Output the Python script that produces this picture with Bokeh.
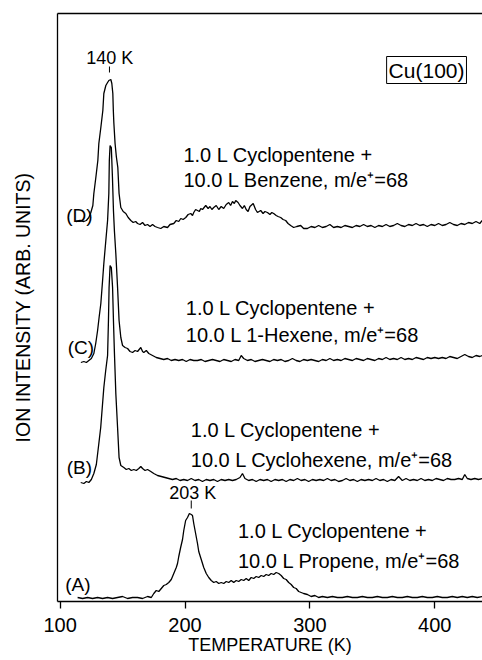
import math
from bokeh.plotting import figure
from bokeh.models import Label, FixedTicker, LinearAxis, Range1d
from bokeh.embed import file_html
from bokeh.resources import INLINE

FONT = "Liberation Sans"

# ---------------- data ----------------
x_ticks = [100, 200, 300, 400]

# (A) 1.0 L cyclopentene + 10.0 L propene
temp_a = [114, 118, 122, 126, 130, 134, 138, 142, 146, 150, 154, 158, 162, 166, 170,
          173, 175, 177, 179, 181, 183, 185, 187, 189, 191, 193,
          194, 195, 196.5, 198, 199, 200.5, 202, 203.5, 205, 206, 207, 208.5, 210, 211, 212.5, 214, 215,
          217, 219, 221, 223, 225, 227, 229, 231, 233, 235, 237, 239, 241, 243, 245, 247, 249, 251, 253, 255,
          257, 259, 261, 263, 265, 267, 269, 271, 273, 275, 277, 279, 281, 283, 285, 287, 289, 291, 293, 295,
          298, 301, 304, 307, 310,
          314, 318, 322, 326, 330, 334, 338, 342, 346, 350, 354, 358, 362, 366, 370, 374, 378, 382, 386, 390,
          394, 398, 402, 406, 410, 414, 418, 422, 426, 430, 434, 438]
int_a = [4, 3, 4, 3, 4, 3, 4, 3, 4, 5, 3, 4, 4, 3, 5,
         4, 8, 11, 10, 13, 16, 17, 19, 22, 28, 34,
         38, 45, 54, 62, 71, 81, 84, 88, 87, 86, 78, 68, 58, 50, 44, 38, 34,
         28, 24, 21, 19, 20, 18, 19, 18, 20, 19, 21, 19, 21, 20, 22, 21, 23, 21, 24, 23,
         25, 24, 26, 25, 27, 26, 28, 27, 29, 28, 26, 23, 22, 19, 17, 14, 13, 10, 9, 8,
         7, 5, 6, 4, 5,
         4, 5, 4, 4, 5, 4, 4, 5, 4, 4, 5, 4, 4, 5, 4, 4, 5, 4, 4, 5,
         4, 4, 5, 4, 4, 5, 4, 5, 4, 5, 4, 5]

# (B) 1.0 L cyclopentene + 10.0 L cyclohexene
temp_b = [116.5, 119, 121, 123, 125, 127, 129, 131, 132.5, 134,
          135, 136.5, 138, 138.7, 139.2, 140, 141, 142, 142.7, 143.5,
          144.6, 146, 147.2, 148.6, 151, 153, 155, 157, 159, 161,
          163, 164.6, 166, 168, 170, 172.6, 175, 178, 181, 184, 187,
          190, 193, 196, 199, 202, 205, 208, 211, 214, 217, 220, 223, 226, 229, 232, 235, 238, 241, 244,
          246, 248,
          251, 254, 257, 260, 263, 266, 269, 272, 275, 278, 281, 284, 287, 290, 293, 296, 299, 302, 305, 308,
          311, 314, 317, 320, 323, 326, 329, 332, 335, 338, 341, 344, 347, 350, 353, 356, 359, 362, 365, 368,
          371, 374, 377, 380, 383, 386, 389, 392, 395, 398, 401, 404, 407, 410, 413, 416, 419, 422,
          424, 426, 429, 432, 435, 438]
int_b = [119, 118, 120, 119, 122, 128, 137, 158, 174, 198,
         214, 231, 246, 281, 314, 336, 334, 314, 281, 248,
         208, 174, 144, 136, 134, 132, 133, 131, 132, 131,
         133, 135, 133, 131, 132, 130, 128, 126, 125, 124, 123,
         122, 123, 121, 122, 121, 123, 121, 122, 120, 122, 121, 122, 120, 122, 121, 122, 121, 122, 124,
         128, 123,
         121, 122, 120, 122, 121, 122, 120, 122, 121, 122, 120, 122, 121, 123, 121, 122, 120, 122, 121, 122,
         121, 123, 121, 122, 120, 121, 123, 121, 122, 120, 122, 121, 122, 121, 123, 121, 122, 120, 122, 121,
         125, 121, 123, 121, 122, 121, 123, 121, 122, 121, 123, 122, 121, 123, 122, 122, 123, 122,
         127, 123, 122, 123, 122, 123]

# (C) 1.0 L cyclopentene + 10.0 L 1-hexene
temp_c = [116.6, 119, 121, 123, 125, 127, 128.5, 130, 131.3, 132.6,
          134, 135, 136.6, 138, 139, 139.4, 140, 141, 141.9, 142.7,
          143.5, 144.6, 146, 147.2, 148.6, 150, 152, 154, 156, 158,
          160, 162, 164.6, 166, 167, 169, 171, 174, 177, 180,
          183, 186, 189, 192, 195, 198, 201, 204, 207, 210, 213, 216, 219, 222, 225, 228, 231, 234, 237, 240, 243,
          245, 247,
          250, 253, 256, 259, 262, 265, 268, 271, 274, 277, 280, 283, 286, 289, 292, 295, 298, 301, 304, 307,
          310, 313, 316, 319, 322, 325, 328, 331, 334, 337, 340, 343, 346, 349, 352, 355, 358, 361, 364, 367,
          370, 373, 376, 379, 382, 385, 388, 391, 394, 397, 400, 403, 406, 409, 412, 415, 418, 421, 424, 427,
          430, 433, 436, 438]
int_c = [239, 240, 239, 241, 243, 248, 258, 271, 285, 298,
         321, 338, 361, 381, 408, 441, 456, 454, 424, 391,
         370, 348, 314, 281, 264, 256, 254, 253, 250, 249,
         251, 250, 254, 250, 249, 251, 248, 246, 244, 243,
         242, 243, 241, 242, 241, 242, 240, 242, 241, 241, 242, 240, 241, 242, 241, 240, 242, 241, 240, 242, 241,
         246, 243,
         241, 242, 240, 241, 242, 241, 240, 242, 241, 242, 240, 241, 243, 241, 240, 242, 241, 242, 241, 240,
         242, 241, 243, 241, 242, 241, 243, 242, 241, 243, 242, 241, 243, 242, 241, 243, 242, 244, 242, 243,
         242, 244, 242, 243, 242, 244, 243, 242, 244, 243, 244, 243, 244, 243, 245, 244, 243, 245, 247, 245,
         244, 246, 245, 246]

# (D) 1.0 L cyclopentene + 10.0 L benzene
temp_d = [112.6, 116, 119, 121, 123, 124.6, 126.2, 127, 128.6, 130.2,
          131, 132.6, 134.2, 135, 136.6, 138, 139, 140.6, 141.4, 142.2,
          142.6, 143, 144, 145, 146.2, 147.2, 148.6, 150.5, 152.6, 154.5,
          156.6, 158.5, 160.5, 162, 164, 166, 168, 170, 172, 174,
          176, 178, 180.6, 183, 186, 188, 191, 193, 195, 196.6,
          198.5, 200.6, 202.5, 204.6, 206, 207, 208.5, 210, 211.5, 212.6,
          214, 216.6, 218.5, 220, 221.5, 223, 225, 227, 229, 231,
          233, 235, 236.5, 238, 239.5, 240.6, 242.5, 244, 246, 247.5,
          249, 250.5, 252, 254.6, 256.5, 258, 260.6, 262.5, 264, 266,
          268, 269.5, 271, 273, 274.5, 276.6, 278.5, 280.6, 282.5, 284.6,
          287, 289.5, 292.6, 295, 298,
          301, 304, 307, 310, 313, 316, 319, 322, 325, 328, 331, 334, 337, 340, 343, 346, 349, 352, 355, 358,
          361, 364, 367, 370, 373, 376, 379, 382, 385, 388, 391, 394, 397, 400, 403, 406, 409, 412, 415, 418,
          421, 424, 427, 430, 433, 436, 438]
int_d = [380, 381, 380, 381, 384, 389, 396, 408, 424, 441,
         458, 474, 491, 508, 516, 519, 521, 522, 518, 508,
         491, 479, 458, 445, 434, 408, 394, 390, 388, 384,
         381, 379, 380, 378, 377, 379, 376, 377, 375, 377,
         375, 374, 373, 375, 374, 377, 378, 381, 380, 383,
         382, 384, 387, 388, 386, 389, 392, 391, 390, 393,
         392, 396, 393, 395, 392, 394, 396, 392, 395, 393,
         397, 399, 396, 400, 398, 401, 399, 396, 393, 396,
         392, 390, 395, 398, 392, 389, 391, 388, 390, 389,
         387, 389, 388, 386, 385, 384, 382, 381, 378, 376,
         374, 375, 376, 373, 373,
         375, 374, 376, 374, 375, 377, 374, 375, 374, 376, 375, 374, 376, 375, 377, 375, 376, 374, 376, 375,
         377, 375, 376, 378, 376, 375, 377, 376, 378, 376, 377, 375, 377, 376, 378, 376, 377, 379, 377, 376,
         378, 377, 379, 378, 380, 378, 381]

trace_tags = ["(A)", "(B)", "(C)", "(D)"]
line1 = "1.0 L Cyclopentene +"
line2 = ["10.0 L Propene, m/e\u207a=68", "10.0 L Cyclohexene, m/e\u207a=68",
         "10.0 L 1-Hexene, m/e\u207a=68", "10.0 L Benzene, m/e\u207a=68"]
peak_labels = ["140 K", "203 K"]
peak_marks = [139.5, 205]
surface = "Cu(100)"
y_title = "ION INTENSITY (ARB. UNITS)"
x_title = "TEMPERATURE (K)"

for xs, ys in [(temp_a, int_a), (temp_b, int_b), (temp_c, int_c), (temp_d, int_d)]:
    assert len(xs) == len(ys), (len(xs), len(ys))

# ---------------- figure ----------------
p = figure(width=482, height=660, title=None,
           x_range=Range1d(97.9, 438.2), y_range=Range1d(0, 588),
           output_backend="svg", toolbar_location=None,
           min_border_left=57, min_border_right=0, min_border_top=13, min_border_bottom=59)
p.outline_line_color = None
p.xgrid.visible = False
p.ygrid.visible = False
p.background_fill_color = "white"
p.border_fill_color = "white"

xa = p.xaxis[0]
xa.ticker = FixedTicker(ticks=x_ticks)
xa.major_tick_out = 7
xa.major_tick_in = 0
xa.minor_tick_out = 0
xa.minor_tick_in = 0
xa.major_tick_line_width = 1.3
xa.axis_line_width = 1.3
xa.major_label_text_font = FONT
xa.major_label_text_font_size = "20px"
xa.major_label_text_color = "black"
xa.major_label_standoff = 9
xa.axis_label = x_title
xa.axis_label_text_font = FONT
xa.axis_label_text_font_size = "18px"
xa.axis_label_text_font_style = "normal"
xa.axis_label_text_color = "black"
xa.axis_label_standoff = 0

ya = p.yaxis[0]
ya.ticker = FixedTicker(ticks=[])
ya.major_tick_out = 0
ya.minor_tick_out = 0
ya.major_label_text_font_size = "0px"
ya.major_label_standoff = 0
ya.axis_line_width = 1.3
ya.axis_label = y_title
ya.axis_label_text_font = FONT
ya.axis_label_text_font_size = "19.5px"
ya.axis_label_text_font_style = "normal"
ya.axis_label_text_color = "black"
ya.axis_label_standoff = 24

top = LinearAxis(ticker=FixedTicker(ticks=[]), major_tick_out=0, minor_tick_out=0,
                 major_label_text_font_size="0px", axis_line_width=1.3)
p.add_layout(top, "above")

for xs, ys in [(temp_a, int_a), (temp_b, int_b), (temp_c, int_c), (temp_d, int_d)]:
    p.line(xs, ys, line_color="black", line_width=1.3)

# peak markers
p.segment(x0=peak_marks, y0=[529, 93], x1=peak_marks, y1=[535, 101],
          line_color="black", line_width=1)

def add_text(x, y, text, size="20px", align="left"):
    p.add_layout(Label(x=x, y=y, text=text, text_font=FONT, text_font_size=size,
                       text_align=align, text_baseline="middle", text_color="black"))

add_text(139.8, 544, peak_labels[0], "18px", "center")
add_text(206.2, 109, peak_labels[1], "18px", "center")

# description texts
add_text(242.4, 70.5, line1)
add_text(242.4, 40.5, line2[0])
add_text(204.6, 172, line1)
add_text(204.6, 142, line2[1])
add_text(200.6, 293.5, line1)
add_text(200.6, 267, line2[2])
add_text(198.7, 447, line1)
add_text(198.7, 422, line2[3])

# trace tags
add_text(114.2, 17, trace_tags[0], "19px", "center")
add_text(115.4, 134, trace_tags[1], "19px", "center")
add_text(116.6, 254, trace_tags[2], "19px", "center")
add_text(115.4, 386, trace_tags[3], "19px", "center")

# surface box
p.add_layout(Label(x=393.4, y=531.5, text=surface, text_font=FONT, text_font_size="21px",
                   text_align="center", text_baseline="middle", text_color="black",
                   border_line_color="black", border_line_width=1, padding=2))

open("out.html", "w").write(file_html(p, INLINE))
